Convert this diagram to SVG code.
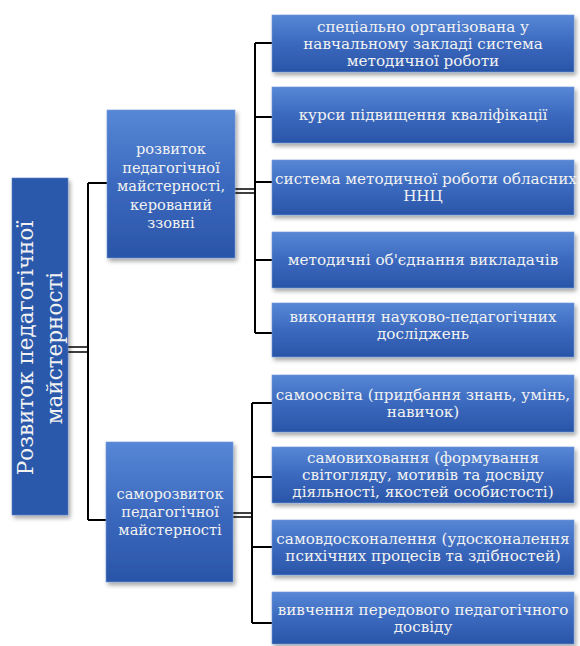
<svg xmlns="http://www.w3.org/2000/svg" width="580" height="646" viewBox="0 0 580 646">
<style>
.box{fill:url(#g);stroke:#6f96d8;stroke-width:0.6;filter:url(#sh)}
.root{fill:#2c59ab;stroke:#5a80c8;stroke-width:0.6;filter:url(#sh)}
.t{font-family:"DejaVu Serif","Liberation Serif",serif;font-size:15.2px;fill:#f2f2f2;text-anchor:middle}
.m{font-size:14.6px}
.r{font-size:21.5px}
.c{stroke:#000;stroke-width:2;fill:none}
.c2{stroke:#000;stroke-width:1.6;fill:none}
</style>
<defs>
<linearGradient id="g" x1="0" y1="0" x2="0" y2="1">
<stop offset="0" stop-color="#5787d6"/>
<stop offset="0.5" stop-color="#3b69be"/>
<stop offset="1" stop-color="#2a55a8"/>
</linearGradient>
<filter id="sh" x="-10%" y="-10%" width="125%" height="125%">
<feDropShadow dx="2" dy="3" stdDeviation="2" flood-color="#000" flood-opacity="0.35"/>
</filter>
</defs>
<g id="connectors">
<path class="c2" d="M68 347H88M68 352H88"/>
<path class="c" d="M88 183V520M88 183H107M88 520H106"/>
<path class="c2" d="M235 189H255M235 193H255"/>
<path class="c" d="M255 43V333M255 43H272M255 117H272M255 182H272M255 260H272M255 333H272"/>
<path class="c2" d="M233 513H252M233 517H252"/>
<path class="c" d="M252 403V623M252 403H272M252 477H272M252 547H272M252 623H272"/>
</g>
<g id="root">
<rect class="root" x="12" y="178" width="56" height="337"/>
<g transform="translate(0,348) rotate(-90)">
<text class="t r" x="0" y="33">Розвиток педагогічної</text>
<text class="t r" x="0" y="62">майстерності</text>
</g>
</g>
<g id="mid1">
<rect class="box" x="107" y="110" width="128" height="148"/>
<text class="t m" x="171" y="154">розвиток</text>
<text class="t m" x="171" y="172.5">педагогічної</text>
<text class="t m" x="171" y="191">майстерності,</text>
<text class="t m" x="171" y="209.5">керований</text>
<text class="t m" x="171" y="228">ззовні</text>
</g>
<g id="mid2">
<rect class="box" x="106" y="442" width="127" height="140"/>
<text class="t m" x="170" y="499">саморозвиток</text>
<text class="t m" x="170" y="517">педагогічної</text>
<text class="t m" x="170" y="535">майстерності</text>
</g>
<g id="b1">
<rect class="box" x="272" y="15" width="302" height="57"/>
<text class="t" x="423" y="32">спеціально організована у</text>
<text class="t" x="423" y="49">навчальному закладі система</text>
<text class="t" x="423" y="66">методичної роботи</text>
</g>
<g id="b2">
<rect class="box" x="272" y="87" width="302" height="56"/>
<text class="t" x="423" y="120">курси підвищення кваліфікації</text>
</g>
<g id="b3">
<rect class="box" x="272" y="160" width="302" height="55"/>
<text class="t" x="426" y="184">система методичної роботи обласних</text>
<text class="t" x="423" y="201">ННЦ</text>
</g>
<g id="b4">
<rect class="box" x="272" y="232" width="302" height="56"/>
<text class="t" x="423" y="265">методичні об'єднання викладачів</text>
</g>
<g id="b5">
<rect class="box" x="272" y="303" width="302" height="54"/>
<text class="t" x="423" y="322">виконання науково-педагогічних</text>
<text class="t" x="423" y="339">досліджень</text>
</g>
<g id="b6">
<rect class="box" x="272" y="375" width="302" height="57"/>
<text class="t" x="423" y="400">самоосвіта (придбання знань, умінь,</text>
<text class="t" x="423" y="417">навичок)</text>
</g>
<g id="b7">
<rect class="box" x="272" y="447" width="302" height="56"/>
<text class="t" x="423" y="463">самовиховання (формування</text>
<text class="t" x="423" y="480">світогляду, мотивів та досвіду</text>
<text class="t" x="423" y="497">діяльності, якостей особистості)</text>
</g>
<g id="b8">
<rect class="box" x="272" y="520" width="302" height="55"/>
<text class="t" x="423" y="544">самовдосконалення (удосконалення</text>
<text class="t" x="423" y="561">психічних процесів та здібностей)</text>
</g>
<g id="b9">
<rect class="box" x="272" y="592" width="302" height="52"/>
<text class="t" x="423" y="615">вивчення передового педагогічного</text>
<text class="t" x="423" y="632">досвіду</text>
</g>
</svg>
